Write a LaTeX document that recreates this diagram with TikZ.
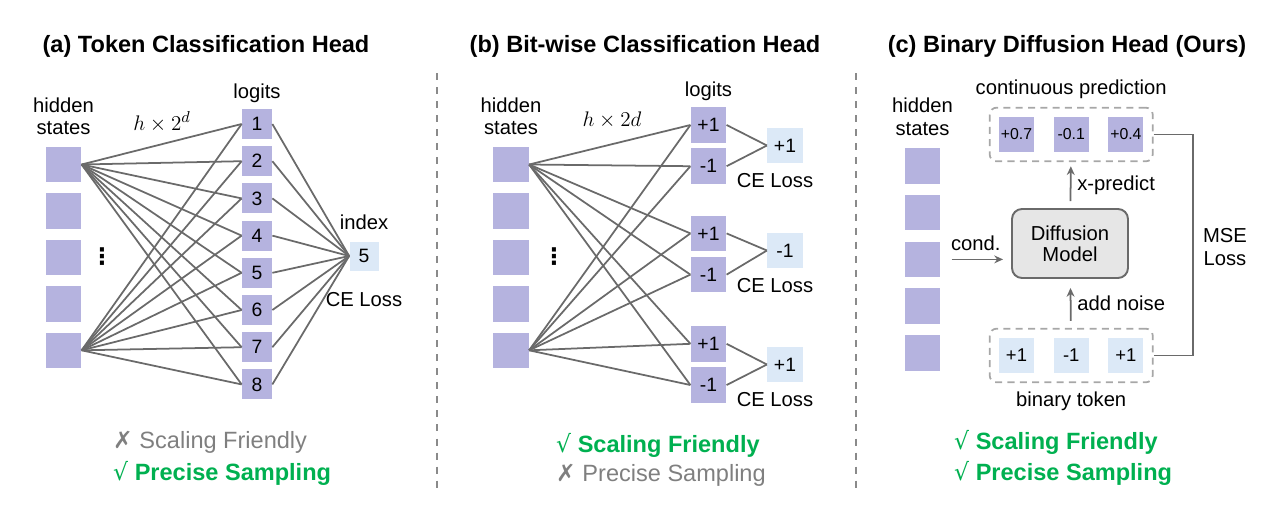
\documentclass[tikz,border=0pt]{standalone}
\usepackage{fontspec}
\setmainfont{Liberation Sans}
\newfontfamily\symfont{DejaVu Sans}
\usetikzlibrary{arrows.meta, positioning, calc, fit}
\definecolor{hidpurple}{HTML}{B5B3DF}
\definecolor{tgtblue}{HTML}{DCE9F7}
\definecolor{wiregray}{HTML}{6A6A6A}
\definecolor{diffgray}{HTML}{E6E6E6}
\definecolor{sepgray}{HTML}{8A8A8A}
\definecolor{okgreen}{HTML}{00B050}
\definecolor{badgray}{HTML}{7F7F7F}

\begin{document}
\begin{tikzpicture}[node distance=0.2cm,
  font=\fontsize{11.5}{13}\selectfont,
  title/.style={font=\fontsize{13.4}{16}\selectfont\bfseries},
  hid/.style={rectangle, fill=hidpurple, minimum size=0.71cm, inner sep=0pt},
  logit/.style={rectangle, fill=hidpurple, minimum size=0.6cm, inner sep=0pt, font=\fontsize{11}{13}\selectfont},
  bitbox/.style={rectangle, fill=hidpurple, minimum size=0.71cm, inner sep=0pt, font=\fontsize{11}{13}\selectfont},
  tgt/.style={rectangle, fill=tgtblue, minimum size=0.71cm, inner sep=0pt, font=\fontsize{11}{13}\selectfont},
  predbox/.style={rectangle, fill=hidpurple, minimum size=0.7cm, inner sep=0pt, font=\fontsize{9}{11}\selectfont},
  binbox/.style={rectangle, fill=tgtblue, minimum size=0.7cm, inner sep=0pt, font=\fontsize{10.5}{12}\selectfont},
  grp/.style={draw=sepgray!75, line width=1pt, dash pattern=on 4pt off 3pt, rounded corners=4pt, inner sep=0.18cm},
  diffbox/.style={rectangle, draw=wiregray, line width=1.1pt, fill=diffgray, rounded corners=0.2cm, minimum width=2.32cm, minimum height=1.38cm, align=center, font=\fontsize{11.5}{12.2}\selectfont},
  dots/.style={inner sep=0pt, font=\symfont\bfseries\fontsize{13}{15}\selectfont},
  wire/.style={wiregray, line width=1pt},
  arrow/.style={-{Stealth[length=5pt, width=4.5pt]}, wiregray, line width=1pt},
  lbl/.style={text=black},
  sep/.style={sepgray, line width=0.8pt, dash pattern=on 4pt off 4pt},
  good/.style={anchor=west, okgreen, font=\fontsize{13.4}{16}\selectfont\bfseries},
  bad/.style={anchor=west, badgray, font=\fontsize{13.4}{16}\selectfont}]

\useasboundingbox (0,0) rectangle (25.6,-10.36);

% (a) token classification
\node[title] (ta) at (4.12,-0.92) {(a) Token Classification Head};
\node[hid] (a-h1) at (1.27,-3.29) {};
\node[hid, below=0.205cm of a-h1] (a-h2) {};
\node[hid, below=0.205cm of a-h2] (a-h3) {};
\node[hid, below=0.205cm of a-h3] (a-h4) {};
\node[hid, below=0.205cm of a-h4] (a-h5) {};
\node[align=center, above=0.1cm of a-h1] (a-hl) {hidden\\states};
\node[dots] (a-dots) at (2.04,-5.14) {⋮};
\node (a-dim) at (3.24,-2.44) {\fontsize{13}{15}\selectfont$h\times 2^d$};

\node[logit] (a-l1) at (5.14,-2.48) {1};
\node[logit, below=0.13cm of a-l1] (a-l2) {2};
\node[logit, below=0.13cm of a-l2] (a-l3) {3};
\node[logit, below=0.13cm of a-l3] (a-l4) {4};
\node[logit, below=0.13cm of a-l4] (a-l5) {5};
\node[logit, below=0.13cm of a-l5] (a-l6) {6};
\node[logit, below=0.13cm of a-l6] (a-l7) {7};
\node[logit, below=0.13cm of a-l7] (a-l8) {8};
\node[above=0cm of a-l1] (a-ll) {logits};

\node[tgt, minimum size=0.58cm] (a-idx) at (7.28,-5.12) {5};
\node[above=0.1cm of a-idx] (a-il) {index};
\node[below=0.3cm of a-idx] (a-ce) {CE Loss};

\foreach \i in {1,...,8} {
  \draw[wire] (a-h1.east) -- (a-l\i.west);
  \draw[wire] (a-h5.east) -- (a-l\i.west);
  \draw[wire] (a-l\i.east) -- (a-idx.west);
}

\node[bad] (a-s) at (2.14,-8.84) {{\symfont ✗} Scaling Friendly};
\node[good] (a-p) at (2.14,-9.46) {{\symfont\mdseries √} Precise Sampling};

\draw[sep] (8.74,-1.46) -- (8.74,-9.8);

% (b) bit-wise classification
\node[title] (tb) at (12.9,-0.92) {(b) Bit-wise Classification Head};
\node[hid] (b-h1) at (10.22,-3.29) {};
\node[hid, below=0.205cm of b-h1] (b-h2) {};
\node[hid, below=0.205cm of b-h2] (b-h3) {};
\node[hid, below=0.205cm of b-h3] (b-h4) {};
\node[hid, below=0.205cm of b-h4] (b-h5) {};
\node[align=center, above=0.1cm of b-h1] (b-hl) {hidden\\states};
\node[dots] (b-dots) at (11.08,-5.14) {⋮};
\node (b-dim) at (12.24,-2.4) {\fontsize{13}{15}\selectfont$h\times 2d$};

\node[bitbox] (b-l1) at (14.17,-2.5) {+1};
\node[bitbox, below=0.1cm of b-l1] (b-l2) {-1};
\node[bitbox, below=0.62cm of b-l2] (b-l3) {+1};
\node[bitbox, below=0.1cm of b-l3] (b-l4) {-1};
\node[bitbox, below=0.66cm of b-l4] (b-l5) {+1};
\node[bitbox, below=0.1cm of b-l5] (b-l6) {-1};
\node[above=0cm of b-l1] (b-ll) {logits};

\node[tgt] (b-t1) at (15.7,-2.91) {+1};
\node[tgt] (b-t2) at (15.7,-5.01) {-1};
\node[tgt] (b-t3) at (15.7,-7.29) {+1};
\node[below=0.08cm of b-t1, xshift=-0.2cm] (b-ce1) {CE Loss};
\node[below=0.08cm of b-t2, xshift=-0.2cm] (b-ce2) {CE Loss};
\node[below=0.08cm of b-t3, xshift=-0.2cm] (b-ce3) {CE Loss};

\foreach \i in {1,...,6} {
  \draw[wire] (b-h1.east) -- (b-l\i.west);
  \draw[wire] (b-h5.east) -- (b-l\i.west);
}
\draw[wire] (b-l1.east) -- (b-t1.west);
\draw[wire] (b-l2.east) -- (b-t1.west);
\draw[wire] (b-l3.east) -- (b-t2.west);
\draw[wire] (b-l4.east) -- (b-t2.west);
\draw[wire] (b-l5.east) -- (b-t3.west);
\draw[wire] (b-l6.east) -- (b-t3.west);

\node[good] (b-s) at (11.0,-8.9) {{\symfont\mdseries √} Scaling Friendly};
\node[bad] (b-p) at (11.0,-9.5) {{\symfont ✗} Precise Sampling};

\draw[sep] (17.12,-1.46) -- (17.12,-9.8);

% (c) binary diffusion
\node[title] (tc) at (21.34,-0.92) {(c) Binary Diffusion Head (Ours)};
\node[hid] (c-h1) at (18.45,-3.32) {};
\node[hid, below=0.21cm of c-h1] (c-h2) {};
\node[hid, below=0.21cm of c-h2] (c-h3) {};
\node[hid, below=0.21cm of c-h3] (c-h4) {};
\node[hid, below=0.21cm of c-h4] (c-h5) {};
\node[align=center, above=0.12cm of c-h1] (c-hl) {hidden\\states};

\node[predbox] (c-p1) at (20.33,-2.69) {+0.7};
\node[predbox, right=0.38cm of c-p1] (c-p2) {-0.1};
\node[predbox, right=0.38cm of c-p2] (c-p3) {+0.4};
\node[grp, fit=(c-p1)(c-p3)] (pgrp) {};
\node[above=0.04cm of pgrp] (c-pl) {continuous prediction};

\node[diffbox] (diff) at (21.4,-4.87) {Diffusion\\Model};

\node[binbox] (c-b1) at (20.33,-7.11) {+1};
\node[binbox, right=0.38cm of c-b1] (c-b2) {-1};
\node[binbox, right=0.38cm of c-b2] (c-b3) {+1};
\node[grp, fit=(c-b1)(c-b3)] (bgrp) {};
\node[below=0.04cm of bgrp] (c-bl) {binary token};

\draw[arrow, shorten <=0.14cm, shorten >=0.08cm] (diff) -- node[lbl, right] {x-predict} (pgrp);
\draw[arrow, shorten <=0.14cm, shorten >=0.18cm] (bgrp) -- node[lbl, right] {add noise} (diff);
\draw[arrow, shorten <=0.22cm, shorten >=0.16cm] (c-h3.east) -- node[lbl, above=1pt] {cond.} (c-h3.east -| diff.west);
\draw[wire] (pgrp.east) -- ++(0.78,0) |- (bgrp.east);
\node[align=center] (c-mse) at (24.5,-4.94) {MSE\\Loss};

\node[good] (c-s) at (18.96,-8.84) {{\symfont\mdseries √} Scaling Friendly};
\node[good] (c-p) at (18.96,-9.46) {{\symfont\mdseries √} Precise Sampling};
\end{tikzpicture}
\end{document}
